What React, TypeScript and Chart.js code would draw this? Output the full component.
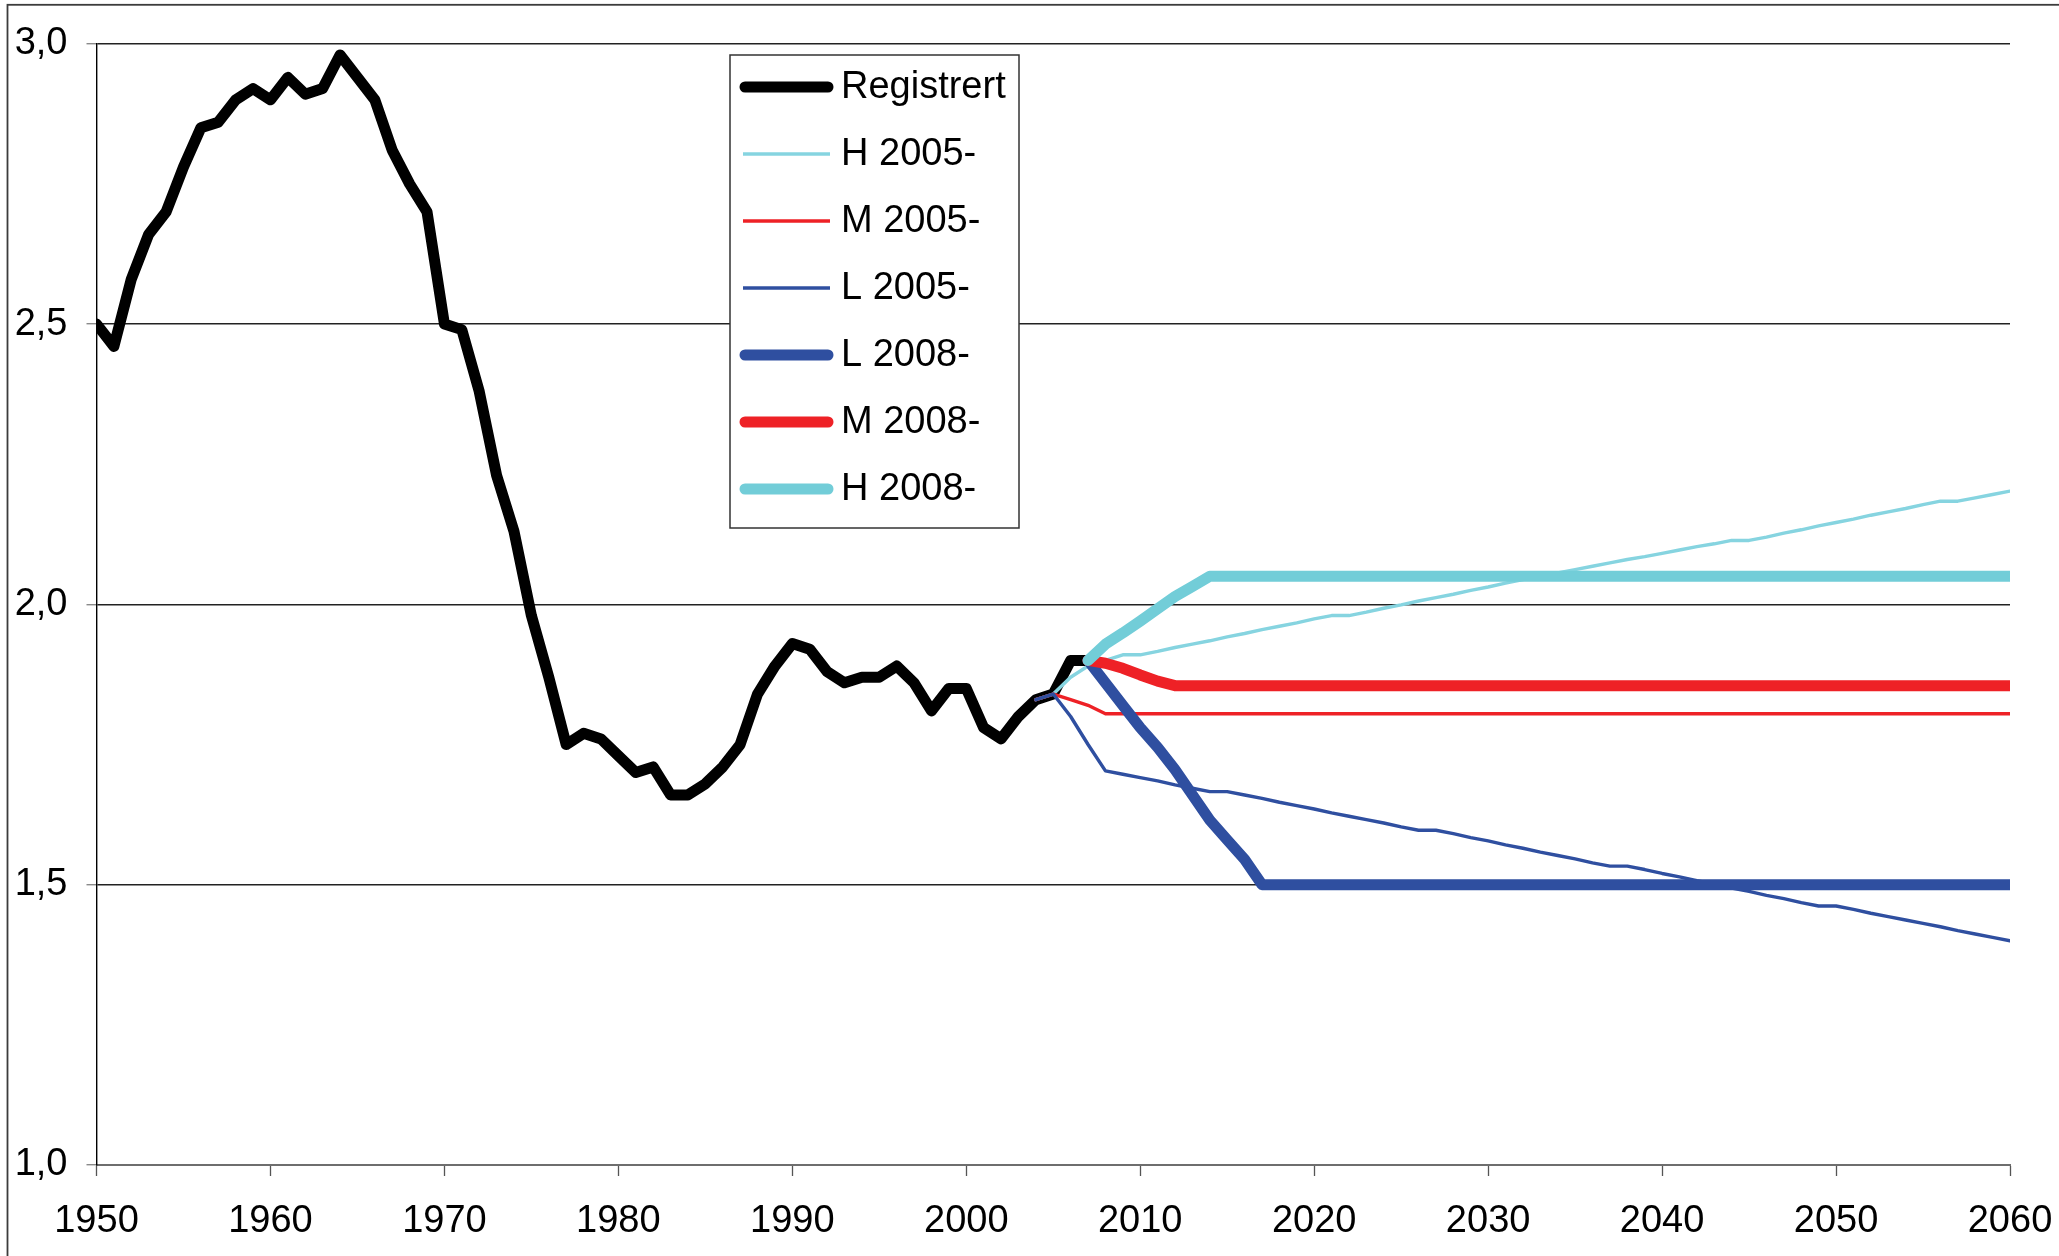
import React, { useEffect, useRef } from 'react';
import { Chart, registerables } from 'chart.js';

Chart.register(...registerables);

// ---- Data ----
const REG_START = 1950;
const registrert = [
  2.50, 2.46, 2.58, 2.66, 2.70, 2.78, 2.85, 2.86, 2.90, 2.92, // 1950-1959
  2.90, 2.94, 2.91, 2.92, 2.98, 2.94, 2.90, 2.81, 2.75, 2.70, // 1960-1969
  2.50, 2.49, 2.38, 2.23, 2.13, 1.98, 1.87, 1.75, 1.77, 1.76, // 1970-1979
  1.73, 1.70, 1.71, 1.66, 1.66, 1.68, 1.71, 1.75, 1.84, 1.89, // 1980-1989
  1.93, 1.92, 1.88, 1.86, 1.87, 1.87, 1.89, 1.86, 1.81, 1.85, // 1990-1999
  1.85, 1.78, 1.76, 1.80, 1.83, 1.84, 1.90, 1.90,             // 2000-2007
];

const P2005_START = 2004;
const h2005 = [
  1.83, 1.84, 1.87, 1.89, 1.90, 1.91,                         // 2004-2009
  1.91, 1.916, 1.923, 1.929, 1.935, 1.942, 1.948, 1.955, 1.961, 1.967, // 2010-2019
  1.974, 1.98, 1.98, 1.986, 1.993, 1.999, 2.006, 2.012, 2.018, 2.025, // 2020-2029
  2.031, 2.038, 2.044, 2.05, 2.056, 2.062, 2.068, 2.074, 2.08, 2.085, // 2030-2039
  2.091, 2.097, 2.103, 2.108, 2.114, 2.114, 2.12, 2.127, 2.133, 2.14, // 2040-2049
  2.146, 2.152, 2.159, 2.165, 2.171, 2.178, 2.184, 2.184, 2.19, 2.196, // 2050-2059
  2.202,                                                      // 2060
];
const m2005 = [
  1.83, 1.84, 1.83, 1.82, 1.805, 1.805,                       // 2004-2009
  1.805, 1.805, 1.805, 1.805, 1.805, 1.805, 1.805, 1.805, 1.805, 1.805, // 2010-2019
  1.805, 1.805, 1.805, 1.805, 1.805, 1.805, 1.805, 1.805, 1.805, 1.805, // 2020-2029
  1.805, 1.805, 1.805, 1.805, 1.805, 1.805, 1.805, 1.805, 1.805, 1.805, // 2030-2039
  1.805, 1.805, 1.805, 1.805, 1.805, 1.805, 1.805, 1.805, 1.805, 1.805, // 2040-2049
  1.805, 1.805, 1.805, 1.805, 1.805, 1.805, 1.805, 1.805, 1.805, 1.805, // 2050-2059
  1.805,                                                      // 2060
];
const l2005 = [
  1.83, 1.84, 1.80, 1.75, 1.703, 1.697,                       // 2004-2009
  1.691, 1.685, 1.678, 1.672, 1.666, 1.666, 1.66, 1.654, 1.647, 1.641, // 2010-2019
  1.635, 1.628, 1.622, 1.616, 1.61, 1.603, 1.597, 1.597, 1.591, 1.584, // 2020-2029
  1.578, 1.571, 1.565, 1.558, 1.552, 1.546, 1.539, 1.533, 1.533, 1.527, // 2030-2039
  1.52, 1.514, 1.507, 1.501, 1.494, 1.488, 1.481, 1.475, 1.468, 1.462, // 2040-2049
  1.462, 1.456, 1.449, 1.443, 1.437, 1.431, 1.425, 1.418, 1.412, 1.406, // 2050-2059
  1.40,                                                       // 2060
];

const P2008_START = 2007;
const l2008 = [
  1.90, 1.86, 1.82,                                           // 2007-2009
  1.78, 1.745, 1.705, 1.66, 1.615, 1.58, 1.545, 1.50, 1.50, 1.50, // 2010-2019
  1.50, 1.50, 1.50, 1.50, 1.50, 1.50, 1.50, 1.50, 1.50, 1.50, // 2020-2029
  1.50, 1.50, 1.50, 1.50, 1.50, 1.50, 1.50, 1.50, 1.50, 1.50, // 2030-2039
  1.50, 1.50, 1.50, 1.50, 1.50, 1.50, 1.50, 1.50, 1.50, 1.50, // 2040-2049
  1.50, 1.50, 1.50, 1.50, 1.50, 1.50, 1.50, 1.50, 1.50, 1.50, // 2050-2059
  1.50,                                                       // 2060
];
const m2008 = [
  1.90, 1.895, 1.886,                                         // 2007-2009
  1.874, 1.863, 1.855, 1.855, 1.855, 1.855, 1.855, 1.855, 1.855, 1.855, // 2010-2019
  1.855, 1.855, 1.855, 1.855, 1.855, 1.855, 1.855, 1.855, 1.855, 1.855, // 2020-2029
  1.855, 1.855, 1.855, 1.855, 1.855, 1.855, 1.855, 1.855, 1.855, 1.855, // 2030-2039
  1.855, 1.855, 1.855, 1.855, 1.855, 1.855, 1.855, 1.855, 1.855, 1.855, // 2040-2049
  1.855, 1.855, 1.855, 1.855, 1.855, 1.855, 1.855, 1.855, 1.855, 1.855, // 2050-2059
  1.855,                                                      // 2060
];
const h2008 = [
  1.90, 1.929, 1.949,                                         // 2007-2009
  1.97, 1.992, 2.014, 2.032, 2.05, 2.05, 2.05, 2.05, 2.05, 2.05, // 2010-2019
  2.05, 2.05, 2.05, 2.05, 2.05, 2.05, 2.05, 2.05, 2.05, 2.05, // 2020-2029
  2.05, 2.05, 2.05, 2.05, 2.05, 2.05, 2.05, 2.05, 2.05, 2.05, // 2030-2039
  2.05, 2.05, 2.05, 2.05, 2.05, 2.05, 2.05, 2.05, 2.05, 2.05, // 2040-2049
  2.05, 2.05, 2.05, 2.05, 2.05, 2.05, 2.05, 2.05, 2.05, 2.05, // 2050-2059
  2.05,                                                       // 2060
];

const SERIES_LABELS = ['Registrert', 'H 2005-', 'M 2005-', 'L 2005-', 'L 2008-', 'M 2008-', 'H 2008-'];
const X_MIN = 1950;
const X_MAX = 2060;
const X_STEP = 10;
const Y_MIN = 1.0;
const Y_MAX = 3.0;
const Y_STEP = 0.5;

// ---- Styles ----
const FONT = '"Liberation Sans", Arial, sans-serif';
const BLACK = '#000000';
const CYAN_THIN = '#86d4e0';
const CYAN = '#72cdd8';
const RED = '#ee2126';
const BLUE = '#2f4fa0';
const THICK = 11;
const THIN = 3.4;

const toPoints = (start: number, vals: number[]) => vals.map((y, i) => ({ x: start + i, y }));

const W = 2059;
const H = 1256;

const legendPlugin = {
  id: 'boxLegend',
  afterDatasetsDraw(chart: any) {
    const ctx = chart.ctx;
    ctx.save();
    const bx = 730, by = 55, bw = 289, bh = 473;
    ctx.fillStyle = '#ffffff';
    ctx.fillRect(bx, by, bw, bh);
    ctx.strokeStyle = '#333333';
    ctx.lineWidth = 1.5;
    ctx.strokeRect(bx, by, bw, bh);
    const ds = chart.data.datasets;
    ctx.font = `38px ${FONT}`;
    ctx.textBaseline = 'middle';
    ctx.textAlign = 'left';
    SERIES_LABELS.forEach((lab, i) => {
      const d = ds.find((q: any) => q.label === lab);
      const y = 87 + i * 67;
      ctx.beginPath();
      ctx.strokeStyle = d.borderColor;
      ctx.lineWidth = d.borderWidth;
      ctx.lineCap = d.borderWidth > 5 ? 'round' : 'butt';
      if (d.borderWidth > 5) {
        ctx.moveTo(745, y);
        ctx.lineTo(828, y);
      } else {
        ctx.moveTo(743, y);
        ctx.lineTo(830, y);
      }
      ctx.stroke();
      ctx.fillStyle = '#000000';
      ctx.fillText(lab, 841, y + 1);
    });
    ctx.restore();
  },
  afterDraw(chart: any) {
    const ctx = chart.ctx;
    ctx.save();
    ctx.strokeStyle = '#3c3c3c';
    ctx.lineWidth = 1.8;
    ctx.strokeRect(7.5, 4.8, 2300, 1500);
    ctx.restore();
  },
};

export default function App() {
  const ref = useRef<HTMLCanvasElement | null>(null);

  useEffect(() => {
    if (!ref.current) return;
    const mk = (label: string, start: number, vals: number[], color: string, width: number, order: number) => ({
      label,
      data: toPoints(start, vals),
      borderColor: color,
      backgroundColor: color,
      borderWidth: width,
      pointRadius: 0,
      pointHoverRadius: 0,
      tension: 0,
      fill: false,
      borderJoinStyle: 'round' as const,
      borderCapStyle: 'round' as const,
      order,
    });
    const chart = new Chart(ref.current, {
      type: 'line',
      data: {
        datasets: [
          mk(SERIES_LABELS[0], REG_START, registrert, BLACK, THICK, 7),
          mk(SERIES_LABELS[1], P2005_START, h2005, CYAN_THIN, THIN, 6),
          mk(SERIES_LABELS[2], P2005_START, m2005, RED, THIN, 5),
          mk(SERIES_LABELS[3], P2005_START, l2005, BLUE, THIN, 4),
          mk(SERIES_LABELS[4], P2008_START, l2008, BLUE, THICK, 3),
          mk(SERIES_LABELS[5], P2008_START, m2008, RED, THICK, 2),
          mk(SERIES_LABELS[6], P2008_START, h2008, CYAN, THICK, 1),
        ],
      },
      options: {
        responsive: false,
        animation: false,
        devicePixelRatio: 1,
        layout: { padding: { left: 0, right: 49, top: 43.7, bottom: 0 } },
        plugins: {
          legend: { display: false },
          tooltip: { enabled: false },
        },
        scales: {
          x: {
            type: 'linear',
            min: X_MIN,
            max: X_MAX,
            afterFit: (s: any) => { s.height = 91; s.paddingLeft = 0; s.paddingRight = 0; },
            grid: {
              drawOnChartArea: false,
              drawTicks: true,
              tickLength: 11,
              tickColor: '#555555',
              tickWidth: 1.3,
            },
            border: { display: true, color: '#6e6e6e', width: 2 },
            ticks: {
              stepSize: X_STEP,
              autoSkip: false,
              maxRotation: 0,
              padding: 22.5,
              color: '#000000',
              font: { family: FONT, size: 38 },
              callback: (v: any) => String(v),
            },
          },
          y: {
            type: 'linear',
            min: Y_MIN,
            max: Y_MAX,
            afterFit: (s: any) => { s.width = 96.5; s.paddingTop = 0; s.paddingBottom = 0; },
            grid: {
              color: '#222222',
              lineWidth: 1.4,
              drawTicks: true,
              tickLength: 10,
              tickColor: '#8a8a8a',
              tickWidth: 1.4,
            },
            border: { display: true, color: '#000000', width: 1.4 },
            ticks: {
              stepSize: Y_STEP,
              padding: 19,
              color: '#000000',
              font: { family: FONT, size: 38 },
              callback: (v: any) => Number(v).toFixed(1).replace('.', ','),
            },
          },
        },
      },
      plugins: [legendPlugin],
    });
    return () => chart.destroy();
  }, []);

  return (
    <div style={{ position: 'fixed', left: 0, top: 0, width: W, height: H, background: '#ffffff', overflow: 'hidden' }}>
      <canvas ref={ref} width={W} height={H} style={{ display: 'block', width: W, height: H }} />
    </div>
  );
}
